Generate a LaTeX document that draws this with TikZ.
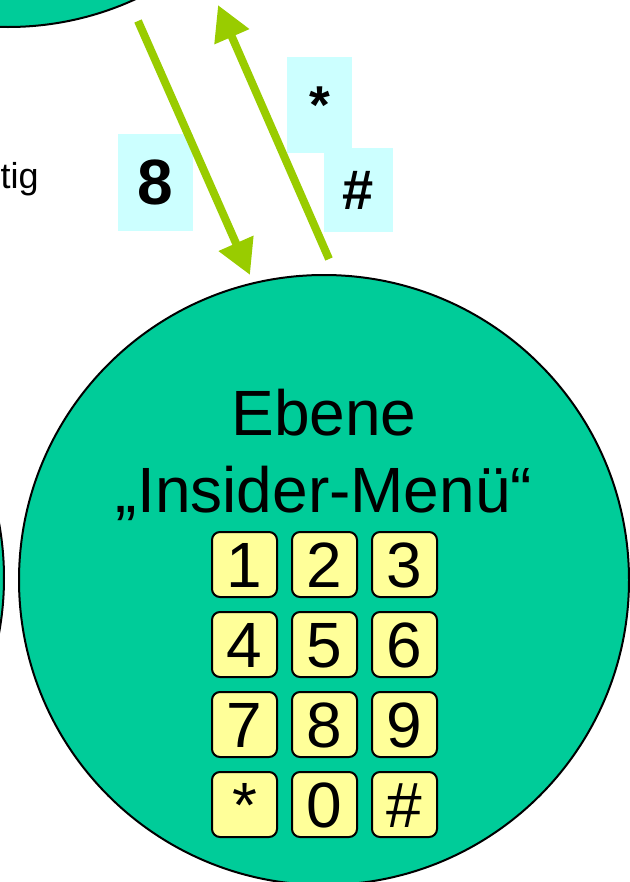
\documentclass[tikz,border=0pt]{standalone}
\usepackage{fontspec}
\setmainfont{Liberation Sans}
\usetikzlibrary{arrows.meta, positioning}
\definecolor{levelgreen}{HTML}{00CC99}
\definecolor{keyyellow}{HTML}{FFFF99}
\definecolor{tagcyan}{HTML}{CCFFFF}
\definecolor{arrowgreen}{HTML}{99CC00}

\begin{document}
\begin{tikzpicture}[
    x=0.75pt, y=-0.75pt,
    level/.style={circle, draw, line width=1.5pt, fill=levelgreen, minimum size=457.5pt, inner sep=0pt},
    key/.style={rectangle, draw, line width=1.5pt, rounded corners=6pt, fill=keyyellow, minimum width=48.75pt, minimum height=48.75pt, inner sep=0pt, outer sep=0pt, text height=34.4pt, text depth=0pt, font=\fontsize{48}{58}\selectfont},
    tag/.style={fill=tagcyan, inner sep=0pt, font=\bfseries\fontsize{40}{48}\selectfont},
    arrow/.style={draw=arrowgreen, line width=6pt, -{Triangle[length=26pt, width=27pt]}},
    node distance=11.25pt
  ]
  \useasboundingbox (0,0) rectangle (630,882);
  \clip (0,0) rectangle (630,882);

  % Levels
  \node (top_level) [level] at (8,-278) {};
  \node (left_level) [level] at (-301,578) {};
  \node (insider_level) [level] at (324,580) {};

  % Key labels
  \node (tag_eight) [tag, minimum width=56.25pt, minimum height=72.75pt, font=\bfseries\fontsize{48}{58}\selectfont] at (155.5,182.5) {8};
  \node (tag_star) [tag, minimum width=48.75pt, minimum height=72pt] at (319.5,105) {*};
  \node (tag_hash) [tag, minimum width=51.75pt, minimum height=63pt, font=\bfseries\fontsize{42}{50}\selectfont] at (358.5,190) {\#};

  % Arrows between the levels
  \coordinate (down_start) at (138,21);
  \coordinate (down_end) at (250,275);
  \coordinate (up_start) at (329,259);
  \coordinate (up_end) at (218,5);
  \draw [arrow] (down_start) -- (down_end);
  \draw [arrow] (up_start) -- (up_end);

  % Texts
  \node (side_text) [anchor=base east, inner sep=0pt, font=\fontsize{27}{32}\selectfont] at (39,188) {tig};
  \node (title_top) [anchor=base, inner sep=0pt, font=\fontsize{48}{58}\selectfont] at (324,435) {Ebene};
  \node (title_bottom) [anchor=base, inner sep=0pt, font=\fontsize{48}{58}\selectfont] at (324,512) {„Insider-Menü“};

  % Keypad
  \node (key_1) [key] at (244.5,564.5) {1};
  \node (key_2) [key, right=of key_1] {2};
  \node (key_3) [key, right=of key_2] {3};
  \node (key_4) [key, below=of key_1] {4};
  \node (key_5) [key, right=of key_4] {5};
  \node (key_6) [key, right=of key_5] {6};
  \node (key_7) [key, below=of key_4] {7};
  \node (key_8) [key, right=of key_7] {8};
  \node (key_9) [key, right=of key_8] {9};
  \node (key_star) [key, below=of key_7] {*};
  \node (key_0) [key, right=of key_star] {0};
  \node (key_hash) [key, right=of key_0] {\#};
\end{tikzpicture}
\end{document}
